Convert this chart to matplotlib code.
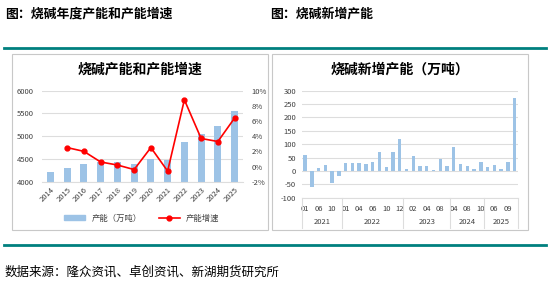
import matplotlib
matplotlib.use('Agg')
import matplotlib.pyplot as plt
from matplotlib.patches import Rectangle
from matplotlib.lines import Line2D
import numpy as np

plt.rcParams['font.family'] = ['Noto Sans CJK SC', 'DejaVu Sans']
plt.rcParams['axes.unicode_minus'] = False

# left chart data
years = ['2014', '2015', '2016', '2017', '2018', '2019', '2020', '2021', '2022', '2023', '2024', '2025']
capacity = [4210, 4300, 4380, 4430, 4425, 4395, 4500, 4487, 4880, 5055, 5230, 5555]
growth = [None, 2.5, 2.0, 0.6, 0.2, -0.4, 2.5, -0.6, 8.8, 3.7, 3.3, 6.4]

# right chart data
months = ['01', '03', '06', '08', '10', '12',
          '01', '03', '04', '05', '06', '08', '10', '11', '12',
          '01', '02', '03', '04', '06', '08', '10',
          '04', '06', '08', '09', '10',
          '03', '06', '07', '09', '10']
group_years = ['2021', '2022', '2023', '2024', '2025']
group_sizes = [6, 9, 7, 5, 5]
new_cap = [61, -60, 11, 21, -45, -19,
           31, 31, 29, 26, 35, 72, 15, 72, 121,
           6, 56, 17, 17, 4, 45, 17,
           91, 25, 17, 9, 32,
           16, 21, 7, 32, 271]

BLUE = '#9DC3E6'
RED = '#FF0000'
GRID = '#DDDDDD'
TEAL = '#00807F'
TICK = '#404040'

W, H = 550, 290
fig = plt.figure(figsize=(W / 100, H / 100), dpi=100)

def fx(px):
    return px / W

def fy(py):
    return 1 - py / H

# headers, rules, footer
fig.text(fx(5), fy(14), '图：烧碱年度产能和产能增速', fontsize=9.3, fontweight='bold', va='center', ha='left')
fig.text(fx(270), fy(14), '图：烧碱新增产能', fontsize=9.3, fontweight='bold', va='center', ha='left')
fig.add_artist(Line2D([fx(4), fx(546)], [fy(48), fy(48)], color=TEAL, lw=2))
fig.add_artist(Line2D([fx(4), fx(546)], [fy(245), fy(245)], color=TEAL, lw=2))
fig.text(fx(5), fy(272), '数据来源：隆众资讯、卓创资讯、新湖期货研究所', fontsize=9, va='center', ha='left')

# panel frames
for x0, x1 in [(12, 268), (272, 528)]:
    fig.add_artist(Rectangle((fx(x0), fy(230)), fx(x1 - x0), (230 - 54) / H,
                             fill=False, edgecolor='#C8C8C8', lw=0.8))

# ---- left chart ----
ax = fig.add_axes([fx(42), fy(181.7), fx(201), 91 / H])
x = np.arange(len(years))
ax.bar(x, np.array(capacity) - 4000, bottom=4000, width=0.42, color=BLUE, zorder=2, label='产能（万吨）')
ax.set_xlim(-0.5, len(years) - 0.5)
ax.set_ylim(4000, 6000)
ax.set_yticks([4000, 4500, 5000, 5500, 6000])
ax.yaxis.grid(True, color=GRID, lw=0.8, zorder=0)
ax.set_xticks(x)
ax.set_xticklabels(years, rotation=45, ha='right', rotation_mode='anchor', fontsize=5.5)
ax.tick_params(axis='y', labelsize=5.5, length=0, pad=6, labelcolor=TICK)
ax.tick_params(axis='x', length=0, pad=3, labelcolor=TICK)
for s in ax.spines.values():
    s.set_visible(False)
ax.spines['bottom'].set_visible(True)
ax.spines['bottom'].set_color(GRID)

ax2 = ax.twinx()
gx = [i for i, g in enumerate(growth) if g is not None]
gy = [g for g in growth if g is not None]
ax2.plot(gx, gy, color=RED, lw=1.2, marker='o', markersize=3.5, label='产能增速', zorder=3)
ax2.set_ylim(-2, 10)
ax2.set_yticks([-2, 0, 2, 4, 6, 8, 10])
ax2.set_yticklabels([f'{v}%' for v in [-2, 0, 2, 4, 6, 8, 10]])
ax2.tick_params(axis='y', labelsize=5.5, length=0, pad=6, labelcolor=TICK)
for s in ax2.spines.values():
    s.set_visible(False)

fig.text(fx(140), fy(70), '烧碱产能和产能增速', fontsize=10, fontweight='bold', ha='center', va='center')
handles = [Rectangle((0, 0), 1, 1, color=BLUE),
           Line2D([0], [0], color=RED, lw=1.2, marker='o', markersize=3.5)]
fig.legend(handles, ['产能（万吨）', '产能增速'], loc='center', bbox_to_anchor=(fx(142), fy(218)),
           ncol=2, frameon=False, fontsize=6, handlelength=2.5, handleheight=0.6, columnspacing=2,
           labelcolor=TICK)

# ---- right chart ----
bx = fig.add_axes([fx(301.7), fy(197.7), fx(216.3), 107 / H])
xr = np.arange(len(new_cap))
bx.bar(xr, new_cap, width=0.5, color=BLUE, zorder=2)
bx.set_xlim(-0.5, len(new_cap) - 0.5)
bx.set_ylim(-100, 300)
bx.set_yticks(np.arange(-100, 301, 50))
bx.yaxis.grid(True, color=GRID, lw=0.8, zorder=0)
bx.tick_params(axis='y', labelsize=5.5, length=0, pad=4, labelcolor=TICK)
bx.set_xticks(xr[::2])
bx.set_xticklabels(months[::2], fontsize=5.5)
bx.tick_params(axis='x', length=0, pad=5, labelcolor=TICK)
for s in bx.spines.values():
    s.set_visible(False)
bx.spines['bottom'].set_visible(True)
bx.spines['bottom'].set_color(GRID)

bounds = np.concatenate([[0], np.cumsum(group_sizes)]) - 0.5
trans = bx.get_xaxis_transform()
for b in bounds:
    bx.plot([b, b], [0, -30.3 / 107], transform=trans, color=GRID, lw=0.8, clip_on=False)
for i, yr in enumerate(group_years):
    bx.text((bounds[i] + bounds[i + 1]) / 2, -24 / 107, yr, transform=trans,
            fontsize=5.5, ha='center', va='center', color=TICK)

fig.text(fx(400), fy(70), '烧碱新增产能（万吨）', fontsize=10, fontweight='bold', ha='center', va='center')

fig.savefig('out.png', dpi=100)
